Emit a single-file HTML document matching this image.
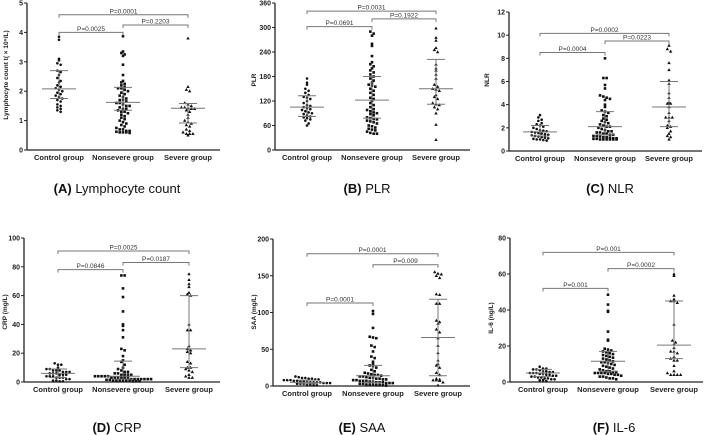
<!DOCTYPE html>
<html><head><meta charset="utf-8">
<style>
html,body{margin:0;padding:0;background:#fff;}
svg{display:block;font-family:"Liberation Sans",Arial,sans-serif;}
</style></head>
<body>
<svg id="fig" width="709" height="435" viewBox="0 0 709 435" xmlns="http://www.w3.org/2000/svg"></svg>
<script>
const categories = ["Control group","Nonsevere group","Severe group"];
// Panel A: Lymphocyte count
const lymControl = [3.85,3.75,3.1,3.05,2.95,2.9,2.7,2.65,2.55,2.45,2.35,2.3,2.2,2.15,2.1,2.05,2.0,1.95,1.9,1.85,1.8,1.75,1.7,1.65,1.55,1.5,1.45,1.4,1.35,1.3];
const lymNonsevere = [3.87,3.35,3.3,3.25,3.2,2.9,2.55,2.35,2.3,2.25,2.2,2.15,2.1,2.1,2.05,2.0,1.95,1.9,1.85,1.8,1.75,1.7,1.7,1.65,1.6,1.6,1.55,1.5,1.5,1.45,1.4,1.4,1.35,1.3,1.3,1.25,1.2,1.15,1.1,1.05,1.0,0.95,0.9,0.85,0.8,0.75,0.7,0.7,0.65,0.65,0.62,0.6,0.6,0.6,0.58];
const lymSevere = [3.8,2.15,2.05,2.0,1.6,1.55,1.5,1.45,1.45,1.42,1.4,1.4,1.35,1.3,1.2,1.1,1.0,0.95,0.9,0.85,0.8,0.7,0.65,0.6,0.55,0.55,0.55,0.5];
const lymStats = [[2.08,1.75,2.7],[1.62,1.35,2.13],[1.42,0.92,1.58]];
const lymTicks = [0,1,2,3,4,5];
const lymP = [["P=0.0001",0,2,4.6],["P=0.0025",0,1,4.0],["P=0.2203",1,2,4.25]];
// Panel B: PLR
const plrControl = [175,165,160,150,145,140,135,130,128,125,120,115,110,108,105,102,100,98,95,92,90,88,85,82,80,78,75,72,65,60];
const plrNonsevere = [290,285,280,260,255,230,215,210,205,200,195,190,185,180,175,170,165,160,158,155,150,145,140,135,128,125,120,115,110,105,100,98,95,92,90,88,85,80,78,76,75,72,70,68,65,60,58,55,52,50,48,45,42,40,40];
const plrSevere = [298,275,268,250,245,240,210,200,195,185,175,160,155,150,148,145,135,130,125,115,112,110,105,100,90,62,25];
const plrStats = [[105,82,133],[122,78,180],[150,112,222]];
const plrTicks = [0,60,120,180,240,300,360];
const plrP = [["P=0.0031",0,2,340],["P=0.0691",0,1,302],["P=0.1922",1,2,321]];
// Panel C: NLR
const nlrControl = [3.1,2.9,2.7,2.6,2.4,2.3,2.2,2.1,2.0,1.9,1.8,1.75,1.7,1.65,1.6,1.55,1.5,1.45,1.4,1.35,1.3,1.25,1.2,1.15,1.1,1.05,1.0,1.0,0.95,0.9];
const nlrNonsevere = [8.0,6.3,6.3,5.7,5.4,4.8,4.7,4.6,4.5,4.4,4.0,3.8,3.5,3.4,3.3,3.1,3.0,2.8,2.7,2.6,2.5,2.4,2.3,2.2,2.1,2.1,2.0,1.9,1.8,1.7,1.7,1.6,1.6,1.5,1.5,1.4,1.4,1.3,1.3,1.25,1.2,1.2,1.15,1.1,1.1,1.05,1.05,1.0,1.0,1.0,1.0,1.0,1.0];
const nlrSevere = [9.1,8.8,8.6,7.6,7.0,6.1,5.8,5.0,4.6,4.2,4.1,4.1,3.8,3.3,2.9,2.9,2.9,2.6,2.2,2.1,2.0,1.7,1.5,1.3,1.2,1.0];
const nlrStats = [[1.65,1.3,2.2],[2.1,1.4,3.4],[3.8,2.1,6.0]];
const nlrTicks = [0,2,4,6,8,10,12];
const nlrP = [["P=0.0002",0,2,10.15],["P=0.0004",0,1,8.5],["P=0.0223",1,2,9.5]];
// Panel D: CRP
const crpControl = [13,12,12,10,9,9,8,8,8,7,7,7,6,6,6,5,5,5,4,4,4,3,3,3,2,2,1,1,0.5,0.5];
const crpNonsevere = [74,74,65,59,49,40,39,36,31,23,22,18,15,14,12,10,9,8,7,7,6,6,5,5,5,5,4,4,4,4,4,3,3,3,3,3,3,2,2,2,2,2,2,2,1.5,1.5,1,1,1,1,1,1,0.5,0.5,0.5];
const crpSevere = [75,71,68,66,62,61,60,40,36,36,25,23,22,21,20,14,13,10,10,9,8,7,5,4,3,3];
const crpStats = [[6,3,9],[4,2,14.5],[23,10,60]];
const crpTicks = [0,20,40,60,80,100];
const crpP = [["P=0.0025",0,2,91],["P=0.0846",0,1,78],["P=0.0187",1,2,83]];
// Panel E: SAA
const saaControl = [13,12,11,11,10,10,9,9,8,8,8,7,7,6,6,6,5,5,5,5,4,4,4,3,3,3,2,2,1,1];
const saaNonsevere = [102,98,79,67,66,65,55,53,47,40,38,33,30,28,27,25,22,20,18,17,16,15,15,14,13,13,12,11,11,10,10,9,9,8,8,7,7,7,6,6,5,5,5,4,4,4,3,3,2,2,2,1,1,1,0.5];
const saaSevere = [155,153,152,150,147,125,124,112,112,89,87,85,77,73,65,55,45,35,30,28,25,18,15,10,9,8,8,7,5,1];
const saaStats = [[5,3,8],[14,5,28],[66,14,118]];
const saaTicks = [0,50,100,150,200];
const saaP = [["P=0.0001",0,2,180],["P=0.0001",0,1,113],["P=0.009",1,2,165]];
// Panel F: IL-6
const il6Control = [8.5,7.5,7.5,7,7,6.5,6,6,5.5,5.5,5,5,5,4.5,4.5,4,4,3.5,3.5,3,3,2.5,2.5,2,2,1.5,1.5,1,1,0.5];
const il6Nonsevere = [48.5,43,39.5,39,28,23.5,23,18.5,18,17.5,17,16.5,16,15.5,15,14.5,14,13.5,13,12.5,12,11.5,11,11,10.5,10,9.5,9,8.5,8,7.5,7,6.5,6,6,5.5,5.5,5,5,5,5,4.5,4.5,4,4,3.5,3,3,2.5,2,2,1.5];
const il6Severe = [60,59,48,46,45,45,44,32,23,22,21,19,17,17,16,14,13,12,12,9,6,5,4,4,4,4];
const il6Stats = [[5,3,7],[11.5,6,17],[20.5,13,45]];
const il6Ticks = [0,20,40,60,80];
const il6P = [["P=0.001",0,2,72],["P=0.001",0,1,52],["P=0.0002",1,2,63]];

const NS="http://www.w3.org/2000/svg";
const svg=document.getElementById('fig');
function mk(tag,attrs,parent,text){const e=document.createElementNS(NS,tag);for(const k in attrs)e.setAttribute(k,attrs[k]);if(text!==undefined)e.textContent=text;(parent||svg).appendChild(e);return e;}

const panels=[
 {id:'a',letter:'(A)',cap:'Lymphocyte count',ytitle:'Lymphocyte count t( × 10⁹/L)',data:[lymControl,lymNonsevere,lymSevere],stats:lymStats,ticks:lymTicks,pv:lymP,ax:27,axEnd:220,yTop:3,yBot:150,cx:[59,123,188],capX:117,capY:193,ytx:8,yty:75},
 {id:'b',letter:'(B)',cap:'PLR',ytitle:'PLR',data:[plrControl,plrNonsevere,plrSevere],stats:plrStats,ticks:plrTicks,pv:plrP,ax:275,axEnd:470,yTop:3,yBot:150,cx:[307,372,436],capX:367,capY:193,ytx:256,yty:80},
 {id:'c',letter:'(C)',cap:'NLR',ytitle:'NLR',data:[nlrControl,nlrNonsevere,nlrSevere],stats:nlrStats,ticks:nlrTicks,pv:nlrP,ax:509,axEnd:702,yTop:12,yBot:151,cx:[540,605,669],capX:610,capY:193,ytx:489,yty:80},
 {id:'d',letter:'(D)',cap:'CRP',ytitle:'CRP (mg/L)',data:[crpControl,crpNonsevere,crpSevere],stats:crpStats,ticks:crpTicks,pv:crpP,ax:24,axEnd:220,yTop:238,yBot:382,cx:[58,123,189],capX:117,capY:432,ytx:7,yty:312},
 {id:'e',letter:'(E)',cap:'SAA',ytitle:'SAA (mg/L)',data:[saaControl,saaNonsevere,saaSevere],stats:saaStats,ticks:saaTicks,pv:saaP,ax:273,axEnd:470,yTop:239,yBot:386,cx:[307,373,438],capX:362,capY:432,ytx:256,yty:312},
 {id:'f',letter:'(F)',cap:'IL-6',ytitle:'IL-6 (ng/L)',data:[il6Control,il6Nonsevere,il6Severe],stats:il6Stats,ticks:il6Ticks,pv:il6P,ax:510,axEnd:703,yTop:238,yBot:382,cx:[543,608,674],capX:614,capY:432,ytx:493,yty:318}
];

panels.forEach(p=>{
 const g=mk('g',{});
 
 
 const ymax=p.ticks[p.ticks.length-1];
 const ys=v=>p.yBot-(v/ymax)*(p.yBot-p.yTop);
 const ya=mk('line',{x1:p.ax,y1:p.yTop,x2:p.ax,y2:p.yBot,stroke:'#222','stroke-width':1.3},g);
 
 const xa=mk('line',{x1:p.ax,y1:p.yBot,x2:p.axEnd,y2:p.yBot,stroke:'#222','stroke-width':1.3},g);
 
 p.ticks.forEach(t=>{
  const y=ys(t);
  mk('line',{x1:p.ax-3,y1:y,x2:p.ax,y2:y,stroke:'#222','stroke-width':1},g);
  const tl=mk('text',{x:p.ax-4,y:y+2.5,'font-size':7,'font-weight':'bold','text-anchor':'end',fill:'#222'},g,String(t));
  
 });
 categories.forEach((c,i)=>{
  const cl=mk('text',{x:p.cx[i],y:p.yBot+10,'font-size':7.5,'font-weight':'bold','text-anchor':'middle',fill:'#222'},g,c);
  
 });
 const yt=mk('text',{x:p.ytx,y:p.yty,'font-size':6.5,'font-weight':'bold','text-anchor':'middle',fill:'#222',transform:`rotate(-90 ${p.ytx} ${p.yty})`},g,p.ytitle);
 
 const cap=mk('text',{x:p.capX,y:p.capY,'font-size':13,'text-anchor':'middle',fill:'#111'},g);
 
 mk('tspan',{'font-weight':'bold'},cap,p.letter+' ');
 mk('tspan',{},cap,p.cap);
 p.data.forEach((arr,gi)=>{
  const rowH=3.6,sp=3.3;
  const rows={};
  arr.forEach(v=>{const y=ys(v);const r=Math.round(y/rowH);(rows[r]=rows[r]||[]).push(y);});
  Object.keys(rows).forEach(r=>{
   const list=rows[r];const n=list.length;
   list.forEach((y,i)=>{
    const x=p.cx[gi]+(i-(n-1)/2)*sp;
    let m;
    if(gi===0) m=mk('circle',{cx:x,cy:y,r:1.3,fill:'#111'},g);
    else if(gi===1) m=mk('rect',{x:x-1.3,y:y-1.3,width:2.6,height:2.6,fill:'#111'},g);
    else m=mk('polygon',{points:`${x},${y-1.8} ${x-1.7},${y+1.2} ${x+1.7},${y+1.2}`,fill:'#111'},g);
    
    
   });
  });
  const s=p.stats[gi];const cx=p.cx[gi];
  const med=mk('line',{x1:cx-17,y1:ys(s[0]),x2:cx+17,y2:ys(s[0]),stroke:'#777','stroke-width':1},g);
  
  mk('line',{x1:cx,y1:ys(s[1]),x2:cx,y2:ys(s[2]),stroke:'#777','stroke-width':1},g);
  mk('line',{x1:cx-9,y1:ys(s[1]),x2:cx+9,y2:ys(s[1]),stroke:'#777','stroke-width':1},g);
  mk('line',{x1:cx-9,y1:ys(s[2]),x2:cx+9,y2:ys(s[2]),stroke:'#777','stroke-width':1},g);
 });
 p.pv.forEach(b=>{
  const y=ys(b[3]);const x1=p.cx[b[1]],x2=p.cx[b[2]];
  const br=mk('path',{d:`M${x1},${y+3}V${y}H${x2}V${y+3}`,fill:'none',stroke:'#777','stroke-width':1},g);
  
  const pt=mk('text',{x:(x1+x2)/2,y:y-1.5,'font-size':6.5,'text-anchor':'middle',fill:'#333'},g,b[0]);
  
 });
});
</script>
</body></html>
